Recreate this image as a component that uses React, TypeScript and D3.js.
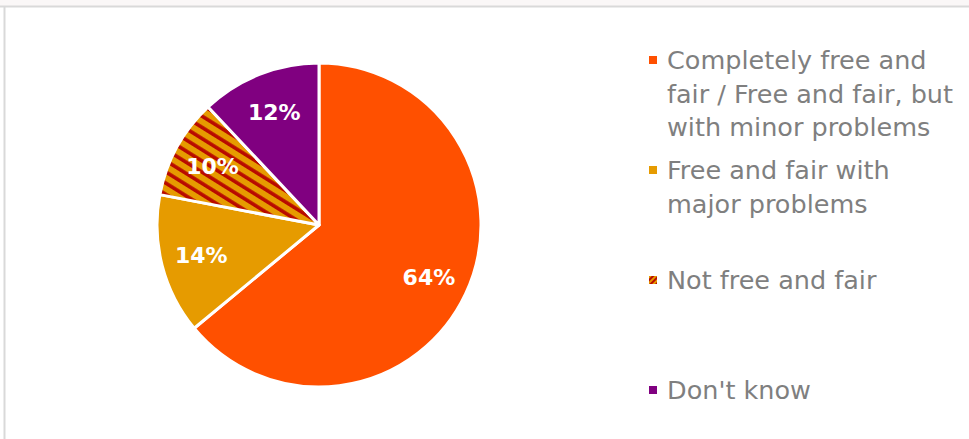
import React from "react";
import * as d3 from "d3";

const categories = [
  "Completely free and fair / Free and fair, but with minor problems",
  "Free and fair with major problems",
  "Not free and fair",
  "Don't know",
];
const values = [64, 14, 10, 12];
const legendLines = [
  ["Completely free and", "fair / Free and fair, but", "with minor problems"],
  ["Free and fair with", "major problems"],
  ["Not free and fair"],
  ["Don't know"],
];
const colors = ["#FF5000", "#E69B00", "url(#stripes)", "#800080"];
const legendY = [60, 170, 280, 390];

export default function App() {
  const W = 969, H = 439;
  const cx = 319, cy = 225, r = 162;
  const pie = d3.pie<number>().sort(null).value((d) => d);
  const arcs = pie(values);
  const arc = d3.arc<d3.PieArcDatum<number>>().innerRadius(0).outerRadius(r);
  const labelArc = d3.arc<d3.PieArcDatum<number>>().innerRadius(r * 0.75).outerRadius(r * 0.75);
  const font = "'DejaVu Sans', sans-serif";
  return (
    <svg width={W} height={H} style={{ position: "absolute", left: 0, top: 0, display: "block" }}>
      <defs>
        <pattern id="stripes" width={9.5} height={9.5} patternUnits="userSpaceOnUse" patternTransform="rotate(-58)">
          <rect width={9.5} height={9.5} fill="#E69B00" />
          <rect width={3.6} height={9.5} fill="#B80A00" />
        </pattern>
        <pattern id="stripesL" width={4} height={4} patternUnits="userSpaceOnUse" patternTransform="rotate(45)">
          <rect width={4} height={4} fill="#E69B00" />
          <rect width={2} height={4} fill="#B80A00" />
        </pattern>
      </defs>
      <rect x={0} y={0} width={W} height={H} fill="#fff" />
      <rect x={0} y={0} width={W} height={6} fill="#faf7f7" />
      <line x1={0} y1={6.5} x2={W} y2={6.5} stroke="#d9d9d9" strokeWidth={2} />
      <line x1={4.5} y1={6} x2={4.5} y2={H} stroke="#d9d9d9" strokeWidth={2} />
      <g transform={`translate(${cx},${cy})`}>
        {arcs.map((a, i) => (
          <path key={i} d={arc(a) || ""} fill={colors[i]} stroke="#fff" strokeWidth={3} strokeLinejoin="round" />
        ))}
        {arcs.map((a, i) => {
          const [x, y] = labelArc.centroid(a);
          return (
            <text key={i} x={x} y={y} dy="0.36em" textAnchor="middle" fill="#fff" fontFamily={font} fontWeight="bold" fontSize={22}>
              {values[i]}%
            </text>
          );
        })}
      </g>
      <g>
        {legendLines.map((lines, i) => (
          <g key={i}>
            <rect x={649} y={legendY[i] - 4} width={8} height={8} fill={i === 2 ? "url(#stripesL)" : colors[i]} />
            {lines.map((ln, j) => (
              <text key={j} x={667} y={legendY[i] + j * 33.5} dy="0.36em" fill="#7f7f7f" fontFamily={font} fontSize={25.5}>
                {ln}
              </text>
            ))}
          </g>
        ))}
      </g>
    </svg>
  );
}
